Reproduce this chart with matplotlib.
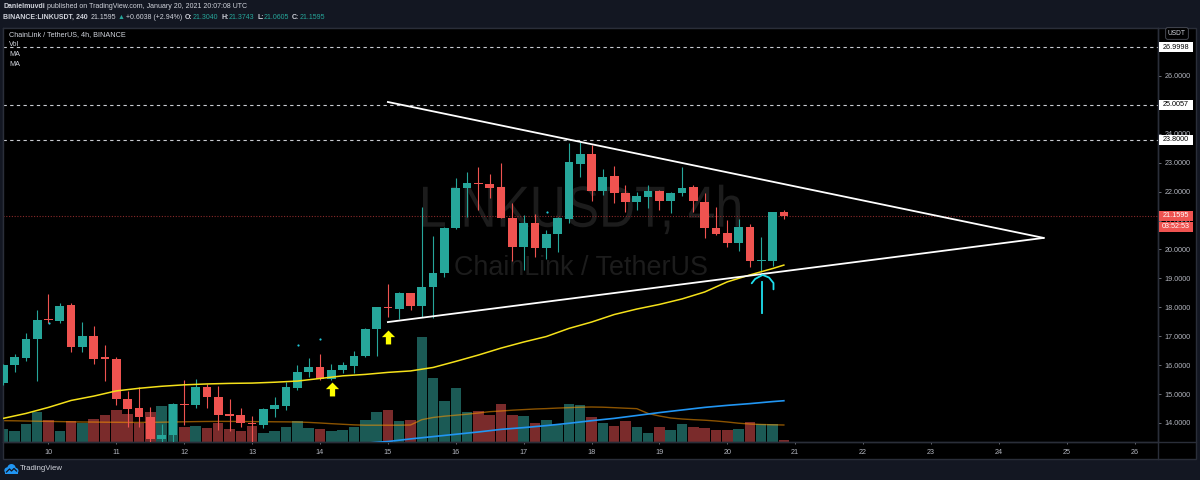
import matplotlib
matplotlib.use('Agg')
import matplotlib.pyplot as plt
import matplotlib.dates as mdates
from matplotlib.path import Path
from matplotlib.patches import Rectangle, Circle, PathPatch
from matplotlib.transforms import blended_transform_factory, IdentityTransform, Affine2D
from matplotlib.textpath import TextPath
from matplotlib.font_manager import FontProperties
from matplotlib.ticker import FuncFormatter
import pandas as pd
import numpy as np

# ---------------- data ----------------
times = pd.date_range('2021-01-09 08:00', periods=70, freq='4h')

opens = [15.39, 16.00, 16.24, 16.89, 17.58, 17.54, 18.08, 16.62, 17.02, 16.27,
         16.21, 14.83, 14.51, 14.22, 13.44, 13.57, 14.66, 14.62, 15.24, 14.91,
         14.30, 14.28, 14.00, 13.93, 14.48, 14.60, 15.21, 15.75, 15.95, 15.52,
         15.83, 15.98, 16.30, 17.25, 18.00, 17.94, 18.48, 18.06, 18.71, 19.20,
         20.73, 22.14, 22.29, 22.27, 22.16, 21.10, 20.10, 20.90, 20.04, 20.52,
         21.04, 22.97, 23.29, 22.03, 22.54, 21.96, 21.65, 21.83, 22.03, 21.69,
         21.94, 22.16, 21.65, 20.73, 20.56, 20.21, 20.77, 19.61, 19.61, 21.3040]
highs = [16.05, 16.39, 17.12, 17.91, 18.45, 18.16, 18.14, 17.48, 17.37, 16.70,
         16.27, 15.12, 15.26, 14.56, 13.97, 14.68, 15.49, 15.51, 15.35, 15.28,
         14.82, 14.51, 14.25, 14.51, 14.89, 15.41, 16.00, 16.24, 16.39, 16.03,
         16.10, 16.50, 17.27, 18.02, 18.81, 18.54, 18.50, 21.46, 20.47, 20.78,
         22.48, 22.67, 22.86, 22.61, 22.98, 21.60, 21.19, 21.23, 20.67, 21.12,
         23.67, 23.73, 23.60, 22.78, 22.89, 22.23, 22.00, 22.23, 22.07, 21.98,
         22.86, 22.23, 21.94, 21.48, 21.02, 21.06, 20.88, 20.42, 21.30, 21.3743]
lows = [15.30, 15.77, 16.14, 15.46, 17.45, 17.47, 16.47, 16.47, 16.04, 15.46,
        14.62, 13.85, 13.85, 13.35, 13.35, 13.35, 13.93, 14.51, 14.51, 13.76,
        13.74, 13.87, 13.35, 13.82, 14.22, 14.45, 15.15, 15.58, 15.49, 15.49,
        15.72, 15.74, 16.28, 16.33, 17.68, 17.60, 17.91, 17.68, 17.62, 19.06,
        20.72, 21.13, 21.37, 21.77, 21.08, 19.61, 19.29, 19.75, 19.66, 19.92,
        20.90, 22.52, 21.68, 21.88, 21.60, 21.31, 21.37, 21.42, 21.37, 21.25,
        21.86, 21.31, 20.39, 20.50, 20.10, 19.96, 19.40, 19.23, 19.43, 21.0605]
closes = [16.00, 16.27, 16.89, 17.56, 17.55, 18.05, 16.62, 17.02, 16.21, 16.22,
          14.83, 14.48, 14.20, 13.44, 13.59, 14.66, 14.62, 15.26, 14.91, 14.28,
          14.25, 14.00, 13.97, 14.48, 14.62, 15.24, 15.75, 15.95, 15.52, 15.83,
          16.00, 16.32, 17.25, 18.00, 17.98, 18.48, 18.06, 18.71, 19.20, 20.75,
          22.14, 22.29, 22.25, 22.14, 21.10, 20.10, 20.90, 20.04, 20.52, 21.08,
          23.01, 23.29, 22.03, 22.52, 21.94, 21.65, 21.85, 22.03, 21.69, 21.96,
          22.14, 21.68, 20.73, 20.54, 20.21, 20.79, 19.61, 19.64, 21.28, 21.1595]
volumes = [200, 170, 275, 450, 325, 160, 310, 285, 345, 410,
           485, 420, 285, 450, 545, 575, 225, 245, 210, 285,
           200, 160, 245, 135, 160, 225, 310, 210, 200, 160,
           175, 220, 325, 445, 485, 320, 325, 1570, 960, 620,
           815, 445, 465, 405, 575, 405, 395, 285, 335, 255,
           575, 555, 370, 285, 245, 320, 220, 135, 225, 175,
           265, 220, 205, 175, 175, 200, 305, 270, 270, 30]
vol_ma = [320, 318, 315, 312, 309, 306, 303, 300, 299, 297,
          296, 294, 294, 296, 297, 300, 303, 306, 308, 309,
          309, 308, 306, 305, 303, 302, 300, 294, 285, 275,
          266, 257, 252, 252, 252, 252, 255,
          335, 368, 387, 402, 417, 435, 455, 465, 477, 486,
          495, 501, 509, 515, 522, 525, 522, 515, 507, 500,
          428, 390, 360, 345, 335, 327, 315, 300, 282, 270, 263, 258, 255]
# price moving averages, read at every second candle (+ last)
ma_yellow_idx = list(range(0, 70, 2)) + [69]
ma_yellow = [14.16, 14.33, 14.54, 14.78, 14.93, 15.11, 15.20, 15.27, 15.32, 15.35,
             15.37, 15.38, 15.41, 15.45, 15.54, 15.63, 15.68, 15.75, 15.80, 15.92,
             16.13, 16.35, 16.59, 16.80, 16.99, 17.27, 17.49, 17.75, 17.94, 18.10,
             18.29, 18.53, 18.88, 19.12, 19.34, 19.46]
ma_blue_idx = list(range(32, 70, 2)) + [69]
ma_blue = [13.30, 13.36, 13.45, 13.53, 13.61, 13.69, 13.78, 13.84, 13.91, 13.99,
           14.08, 14.16, 14.26, 14.36, 14.45, 14.54, 14.61, 14.67, 14.74, 14.77]

price_ticks = [14, 15, 16, 17, 18, 19, 20, 21, 22, 23, 24, 25, 26]
levels = [26.9998, 25.0057, 23.8000]
last_price = 21.1595
countdown = '03:52:53'

tri_upper_t = ['2021-01-15 00:00', '2021-01-24 15:50']
tri_upper_p = [25.10, 20.40]
tri_lower_t = ['2021-01-15 00:00', '2021-01-24 15:50']
tri_lower_p = [17.49, 20.40]

yarrow_t = ['2021-01-15 00:00', '2021-01-14 04:20']
yarrow_p = [16.96, 15.19]

cyan_shaft_t = ['2021-01-20 12:12', '2021-01-20 12:12']
cyan_shaft_p = [17.80, 18.86]
cyan_arc_t = ['2021-01-20 08:38', '2021-01-20 09:50', '2021-01-20 12:30',
              '2021-01-20 14:45', '2021-01-20 16:20', '2021-01-20 16:20']
cyan_arc_p = [18.83, 18.98, 19.12, 19.03, 18.84, 18.62]

dots_t = ['2021-01-10 00:15', '2021-01-13 16:20', '2021-01-14 00:00', '2021-01-17 08:10']
dots_p = [17.45, 16.70, 16.90, 21.30]

day_ticks = list(range(10, 27))

# ---------------- style ----------------
FAM = ['Liberation Sans', 'DejaVu Sans']
plt.rcParams['font.family'] = FAM

UP, DN = '#26a69a', '#ef5350'
VUP, VDN = '#1b5a55', '#7a2b2b'
TXT = '#d1d4dc'
AXT = '#b2b5be'
NAVY = '#131722'
BORDER = '#2a2e39'
WMC = '#1c1c1c'

W, H = 1200, 480
fig = plt.figure(figsize=(W / 100, H / 100), dpi=100, facecolor=NAVY)


def fx(px):
    return px / W


def fy(py):
    return 1 - py / H


fig.patches.append(Rectangle((fx(3), fy(459)), (1196 - 3) / W, (459 - 28) / H,
                             transform=fig.transFigure, facecolor='black',
                             edgecolor=BORDER, lw=1, zorder=0))

rect = [fx(3), fy(442), (1158 - 3) / W, (442 - 28) / H]
axv = fig.add_axes(rect, facecolor='black')
ax = fig.add_axes(rect, sharex=axv)
ax.patch.set_visible(False)
axv.set_zorder(1)
ax.set_zorder(2)

ax.set_xlim(mdates.date2num(pd.Timestamp('2021-01-09 07:55')),
            mdates.date2num(pd.Timestamp('2021-01-26 08:17')))
ax.set_ylim(13.343, 27.658)
axv.set_ylim(0, 6210)

o = np.array(opens); c = np.array(closes); hi = np.array(highs); lo = np.array(lows)
up = c >= o
cols = np.where(up, UP, DN)
vcols = np.where(up, VUP, VDN)

# volume
axv.bar(times, volumes, width=0.155, color=vcols, linewidth=0, zorder=2)
axv.plot(times, vol_ma, color='#ff9800', alpha=0.55, lw=1, zorder=3)
for s in axv.spines.values():
    s.set_visible(False)
axv.set_yticks([])
axv.tick_params(axis='x', bottom=False, labelbottom=False)

# watermark (big symbol text drawn as a horizontally condensed text path)
tp = TextPath((0, 0), 'LINKUSDT, 4h', size=58, prop=FontProperties(family='Liberation Sans'))
ext = tp.get_extents()
target_w = 317.0
sx = target_w / ext.width
left_px = 581.5 - target_w / 2
tr = Affine2D().scale(sx, 1).translate(left_px - ext.x0 * sx, H - 226.7)
wm = PathPatch(tp, transform=tr, facecolor=WMC, edgecolor='none', zorder=0.5)
ax.add_artist(wm)
bt = blended_transform_factory(ax.transAxes, ax.transData)
ax.text(0.5, 19.12, 'ChainLink / TetherUS', transform=bt, ha='center', va='baseline',
        fontsize=19.4, color=WMC, zorder=0.5)

# level lines
for lv in levels:
    ax.axhline(lv, color='#c8cad0', lw=0.8, ls=(0, (3, 3)), zorder=1)
ax.axhline(last_price, color='#8a2a2a', lw=0.8, ls=(0, (1, 1.5)), zorder=1)

# candles
bottom = np.minimum(o, c)
height = np.maximum(np.abs(c - o), 0.035)
ax.vlines(times, lo, hi, colors=cols, lw=0.8, zorder=3)
ax.bar(times, height, bottom=bottom, width=0.128, color=cols, linewidth=0, zorder=4)

# moving averages
ax.plot(times[ma_yellow_idx], ma_yellow, color='#f5e11a', lw=1.1, zorder=5)
ax.plot(times[ma_blue_idx], ma_blue, color='#2196f3', lw=1.2, zorder=5)

# drawings
ax.plot(pd.to_datetime(tri_upper_t), tri_upper_p, color='white', lw=1.3, zorder=6)
ax.plot(pd.to_datetime(tri_lower_t), tri_lower_p, color='white', lw=1.3, zorder=6)

arrow = Path([(0, 1), (-0.95, 0.05), (-0.38, 0.05), (-0.38, -1), (0.38, -1),
              (0.38, 0.05), (0.95, 0.05), (0, 1)], closed=True)
ax.scatter(pd.to_datetime(yarrow_t), yarrow_p, marker=arrow, s=10 ** 2,
           c='#ffff00', linewidths=0, zorder=7)

ax.plot(pd.to_datetime(cyan_shaft_t), cyan_shaft_p, color='#1fe0ef', lw=1.3, zorder=7)
ax.plot(pd.to_datetime(cyan_arc_t), cyan_arc_p, color='#1fe0ef', lw=1.3, zorder=7,
        solid_capstyle='round', solid_joinstyle='round')
ax.scatter(pd.to_datetime(dots_t), dots_p, s=2.5, c='#1fc8d8', linewidths=0, zorder=7)

# axes / ticks
for s in ax.spines.values():
    s.set_color(BORDER)
    s.set_linewidth(1)
ax.yaxis.tick_right()
ax.set_yticks(price_ticks)
ax.set_yticklabels([f'{v:.4f}' for v in price_ticks])
ax.tick_params(axis='y', colors='#7a7d86', labelcolor=AXT, labelsize=5.2,
               length=2, width=0.6, pad=2.6)
ax.set_xticks([mdates.date2num(pd.Timestamp(2021, 1, d)) for d in day_ticks])
ax.xaxis.set_major_formatter(FuncFormatter(lambda v, p: str(mdates.num2date(v).day)))
ax.tick_params(axis='x', colors='#7a7d86', labelcolor=AXT, labelsize=5.2,
               length=1.5, width=0.6, pad=3.5)

# price axis separators
fig.add_artist(plt.Line2D([fx(3), fx(1196)], [fy(442), fy(442)], color=BORDER, lw=1))
fig.add_artist(plt.Line2D([fx(1158), fx(1158)], [fy(28), fy(459)], color=BORDER, lw=1))

fig.canvas.draw()
renderer = fig.canvas.get_renderer()


def ypix(p):
    return H - ax.transData.transform((0, p))[1]


def pbox(y_px, text, fc, tc):
    fig.patches.append(Rectangle((fx(1159), fy(y_px + 5)), 34 / W, 10 / H,
                                 transform=fig.transFigure, facecolor=fc,
                                 edgecolor='none', zorder=10))
    fig.text(fx(1176), fy(y_px), text, ha='center', va='center', color=tc,
             fontsize=5.2, zorder=11)


for lv in levels:
    pbox(ypix(lv), f'{lv:.4f}', 'white', 'black')
yl = ypix(last_price)
pbox(yl, f'{last_price:.4f}', DN, 'white')
pbox(yl + 11, countdown, DN, 'white')

fig.text(fx(1177), fy(33.5), 'USDT', ha='center', va='center', color=TXT, fontsize=4.8,
         bbox=dict(boxstyle='round,pad=0.35,rounding_size=0.3', fc='black', ec='#50535e', lw=0.6),
         zorder=11)


def rich(x_px, y_px, parts, size):
    x = x_px
    for s, color, weight, gap in parts:
        t = fig.text(fx(x), fy(y_px), s, color=color, fontsize=size, fontweight=weight,
                     va='center', ha='left')
        bb = t.get_window_extent(renderer=renderer)
        x += bb.width + gap


rich(3, 7, [('Danielmuvdi', TXT, 'bold', 2.0),
            ('published on TradingView.com, January 20, 2021 20:07:08 UTC', TXT, 'normal', 0)], 5.05)
rich(3, 17.5, [('BINANCE:LINKUSDT, 240', TXT, 'bold', 2.6),
               ('21.1595', TXT, 'normal', 1.8),
               ('\u25b2', UP, 'normal', 1.8),
               ('+0.6038 (+2.94%)', TXT, 'normal', 2.6),
               ('O:', TXT, 'bold', 0.4), ('21.3040', UP, 'normal', 2.6),
               ('H:', TXT, 'bold', 0.4), ('21.3743', UP, 'normal', 2.6),
               ('L:', TXT, 'bold', 0.4), ('21.0605', UP, 'normal', 2.6),
               ('C:', TXT, 'bold', 0.4), ('21.1595', UP, 'normal', 0)], 5.05)

for yy, s in [(34.5, 'ChainLink / TetherUS, 4h, BINANCE'), (44, 'Vol'), (54, 'MA'), (64, 'MA')]:
    fig.text(fx(9), fy(yy), s, color=TXT, fontsize=5.2, va='center', ha='left', zorder=11)

# footer logo
for (cx, cy, r) in [(7.5, 470.5, 3.2), (11.5, 468.2, 4.2), (15.5, 470.8, 3.0)]:
    fig.patches.append(Circle((cx, H - cy), r, transform=IdentityTransform(),
                              facecolor='#2196f3', edgecolor='none', zorder=5))
fig.patches.append(Rectangle((5, H - 474), 12.5, 4, transform=IdentityTransform(),
                             facecolor='#2196f3', edgecolor='none', zorder=5))
fig.add_artist(plt.Line2D([6.5, 9.5, 11.5, 14, 16.5], [H - 472, H - 469, H - 471, H - 468.5, H - 471],
                          transform=IdentityTransform(), color=NAVY, lw=0.9, zorder=6))
fig.text(fx(19.5), fy(469), 'TradingView', color=TXT, fontsize=5.6, va='center', ha='left')

fig.savefig('out.png', dpi=100, facecolor=NAVY)
